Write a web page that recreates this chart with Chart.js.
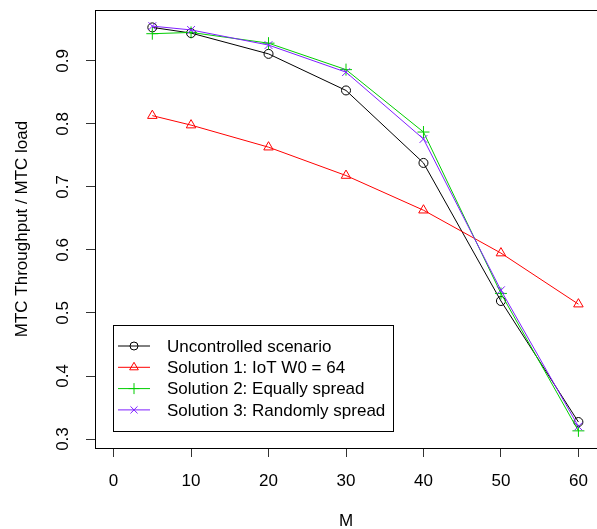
<!DOCTYPE html>
<html>
<head>
<meta charset="utf-8">
<script src="https://cdn.jsdelivr.net/npm/chart.js@4/dist/chart.umd.min.js"></script>
<style>
  html, body { margin: 0; padding: 0; background: #fff; }
  canvas { display: block; }
</style>
</head>
<body>
<canvas id="chart" width="597" height="529"></canvas>
<script>
/* ── data ── */
const mValues      = [5, 10, 20, 30, 40, 50, 60];
const uncontrolled = [0.953, 0.944, 0.911, 0.853, 0.738, 0.519, 0.327];
const solution1    = [0.813, 0.798, 0.763, 0.718, 0.663, 0.595, 0.514];
const solution2    = [0.943, 0.945, 0.928, 0.886, 0.787, 0.531, 0.313];
const solution3    = [0.955, 0.949, 0.925, 0.882, 0.776, 0.536, 0.320];

const seriesLabels = [
  'Uncontrolled scenario',
  'Solution 1: IoT W0 = 64',
  'Solution 2: Equally spread',
  'Solution 3: Randomly spread',
];
const xTicks = [0, 10, 20, 30, 40, 50, 60];
const yTicks = [0.3, 0.4, 0.5, 0.6, 0.7, 0.8, 0.9];

/* ── styles ── */
const FONT = "'Liberation Sans', Arial, sans-serif";
const COLORS = ['#000000', '#ff0000', '#00cd00', '#7f1fff'];
const STYLES = ['circle', 'triangle', 'cross', 'crossRot'];
const RADII  = [4.5, 5.5, 6, 5.5];

const toPoints = arr => arr.map((y, i) => ({ x: mValues[i], y }));

const datasets = [uncontrolled, solution1, solution2, solution3].map((vals, i) => ({
  label: seriesLabels[i],
  data: toPoints(vals),
  borderColor: COLORS[i],
  borderWidth: 1,
  pointStyle: STYLES[i],
  pointRadius: RADII[i],
  pointBorderColor: COLORS[i],
  pointBorderWidth: 1,
  pointBackgroundColor: 'rgba(0,0,0,0)',
  fill: false,
  tension: 0,
  order: 3 - i,
}));

/* box round the plot + legend inside it */
const frameAndLegend = {
  id: 'frameAndLegend',
  afterDatasetsDraw(chart) {
    const { ctx, chartArea: a } = chart;
    ctx.save();
    ctx.strokeStyle = '#000';
    ctx.lineWidth = 1;
    ctx.strokeRect(Math.round(a.left) + 0.5, Math.round(a.top) + 0.5,
                   Math.round(a.right - a.left), Math.round(a.bottom - a.top));

    // legend box
    const bx = 113.5, by = 325.5, bw = 280, bh = 106;
    ctx.fillStyle = '#fff';
    ctx.fillRect(bx, by, bw, bh);
    ctx.strokeRect(bx, by, bw, bh);
    ctx.font = '17px ' + FONT;
    ctx.textBaseline = 'middle';
    ctx.textAlign = 'left';
    seriesLabels.forEach((label, i) => {
      const y = 346 + i * 21.3;
      ctx.strokeStyle = COLORS[i];
      ctx.lineWidth = 1;
      ctx.beginPath();
      ctx.moveTo(118, y);
      ctx.lineTo(150, y);
      ctx.stroke();
      ctx.fillStyle = 'rgba(0,0,0,0)';
      Chart.helpers.drawPoint(ctx, {
        pointStyle: STYLES[i], radius: RADII[i] - 0.5, borderWidth: 1, rotation: 0,
      }, 134, y);
      ctx.fillStyle = '#000';
      ctx.fillText(label, 167, y + 1);
    });
    ctx.restore();
  },
};

Chart.defaults.font.family = FONT;
Chart.defaults.color = '#000';

new Chart(document.getElementById('chart'), {
  type: 'line',
  data: { datasets },
  options: {
    responsive: false,
    animation: false,
    layout: { autoPadding: false, padding: { top: 10, right: 0, left: 0, bottom: 0 } },
    plugins: { legend: { display: false }, tooltip: { enabled: false } },
    scales: {
      x: {
        type: 'linear',
        min: -2.4, max: 62.4,
        afterBuildTicks: s => { s.ticks = xTicks.map(v => ({ value: v })); },
        afterFit: s => { s.height = 81; s.paddingLeft = 0; s.paddingRight = 0; },
        grid: { drawOnChartArea: false, drawTicks: true, tickLength: 9, color: '#333' },
        border: { display: false },
        ticks: { font: { size: 17 }, padding: 14, color: '#000', maxRotation: 0 },
        title: { display: true, text: 'M', font: { size: 17 }, padding: { top: 0, bottom: -3 }, color: '#000' },
      },
      y: {
        type: 'linear',
        min: 0.2858, max: 0.9806,
        afterBuildTicks: s => { s.ticks = yTicks.map(v => ({ value: v })); },
        afterFit: s => { s.width = 95; s.paddingTop = 0; s.paddingBottom = 0; },
        grid: { drawOnChartArea: false, drawTicks: true, tickLength: 9, color: '#333' },
        border: { display: false },
        ticks: {
          font: { size: 17 }, padding: 11, color: '#000',
          minRotation: 90, maxRotation: 90, crossAlign: 'center',
          callback: v => v.toFixed(1),
        },
        title: { display: true, text: 'MTC Throughput / MTC load', font: { size: 17 }, padding: { top: 12, bottom: 0 }, color: '#000' },
      },
    },
  },
  plugins: [frameAndLegend],
});
</script>
</body>
</html>
